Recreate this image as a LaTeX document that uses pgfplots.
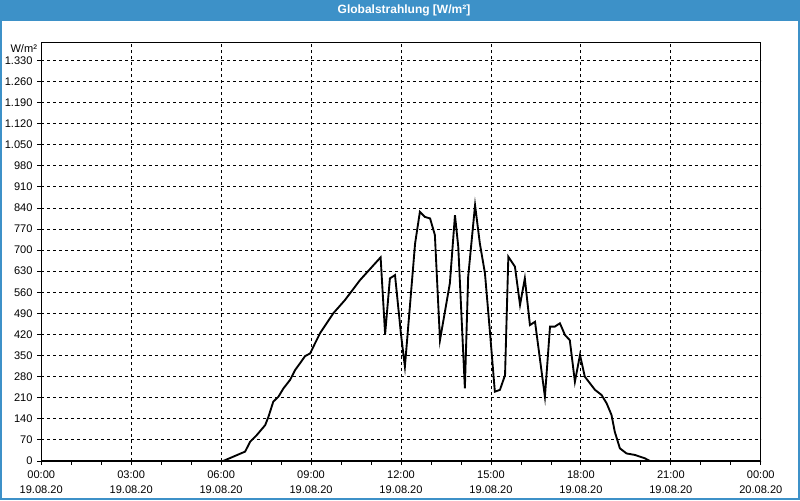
\documentclass[border=0pt]{standalone}
\usepackage{pgfplots}
\pgfplotsset{compat=1.18}
\usepackage{fontspec}
\setmainfont{Liberation Sans}
\definecolor{barblue}{RGB}{61,145,200}
\begin{document}
\begin{tikzpicture}[x=0.75pt,y=0.75pt]
\fill[white] (0,0) rectangle (800,500);
\fill[barblue] (0,479) rectangle (800,500);
\draw[barblue,line width=1.5pt] (0.75,0.75) rectangle (799.25,499.25);
\node[white,font=\bfseries\fontsize{9}{10.8}\selectfont] at (404,489.5) {Globalstrahlung [W/m²]};
\begin{axis}[
  at={(41pt*0.75,39pt*0.75)}, anchor=south west,
  scale only axis, width=540pt, height=314.25pt,
  xmin=0, xmax=24, ymin=0, ymax=1390,
  axis line style={black, line width=0.9pt},
  xtick={0,3,...,24},
  minor xtick={1,2,4,5,7,8,10,11,13,14,16,17,19,20,22,23},
  xticklabels={{00:00\\19.08.20},{03:00\\19.08.20},{06:00\\19.08.20},{09:00\\19.08.20},{12:00\\19.08.20},{15:00\\19.08.20},{18:00\\19.08.20},{21:00\\19.08.20},{00:00\\20.08.20}},
  xticklabel style={align=center, font=\fontsize{8.3}{11.25}\selectfont, yshift=-1.2pt},
  ytick={0,70,...,1330},
  yticklabel style={font=\fontsize{8.3}{9.6}\selectfont},
  /pgf/number format/assume math mode=true,
  /pgf/number format/1000 sep={.},
  tick align=outside,
  major tick length=3pt, minor tick length=3pt,
  tick style={black, line width=0.6pt},
  xtick pos=bottom, ytick pos=left,
  xmajorgrids, ymajorgrids,
  major grid style={black, line width=0.6pt, dash pattern=on 2.25pt off 2.25pt},
  clip=false,
]
\addplot[black, line width=1.4pt] coordinates {
(0,0) (6.07,0) (6.8,31) (6.97,64) (7.19,86) (7.47,119) (7.58,147) (7.74,197) (7.91,213)
(8.08,241) (8.3,269) (8.47,302) (8.63,324) (8.8,348) (8.97,357) (9.13,390) (9.3,424)
(9.52,457) (9.74,490) (10.13,534) (10.63,600) (11.32,676) (11.47,421) (11.63,606)
(11.8,617) (12.0,420) (12.13,313) (12.47,722) (12.63,827) (12.8,810) (12.97,805)
(13.13,750) (13.3,401) (13.63,590) (13.8,816) (13.91,711) (14.13,241) (14.24,611)
(14.47,849) (14.63,722) (14.8,623) (14.97,424) (15.13,230) (15.3,236) (15.47,285)
(15.58,678) (15.8,645) (15.97,518) (16.13,606) (16.3,451) (16.47,462) (16.8,213)
(16.97,446) (17.13,446) (17.3,457) (17.47,418) (17.63,401) (17.8,263) (17.97,352)
(18.13,280) (18.3,258) (18.47,236) (18.69,219) (18.86,191) (19.02,153) (19.13,97)
(19.3,42) (19.52,25) (19.8,20) (20.13,9) (20.3,0) (24,0)
};
\node[anchor=north east, font=\fontsize{8.3}{9.6}\selectfont, inner sep=0pt] at ([xshift=-3pt,yshift=-1.5pt]rel axis cs:0,1) {W/m²};
\end{axis}
\end{tikzpicture}
\end{document}
